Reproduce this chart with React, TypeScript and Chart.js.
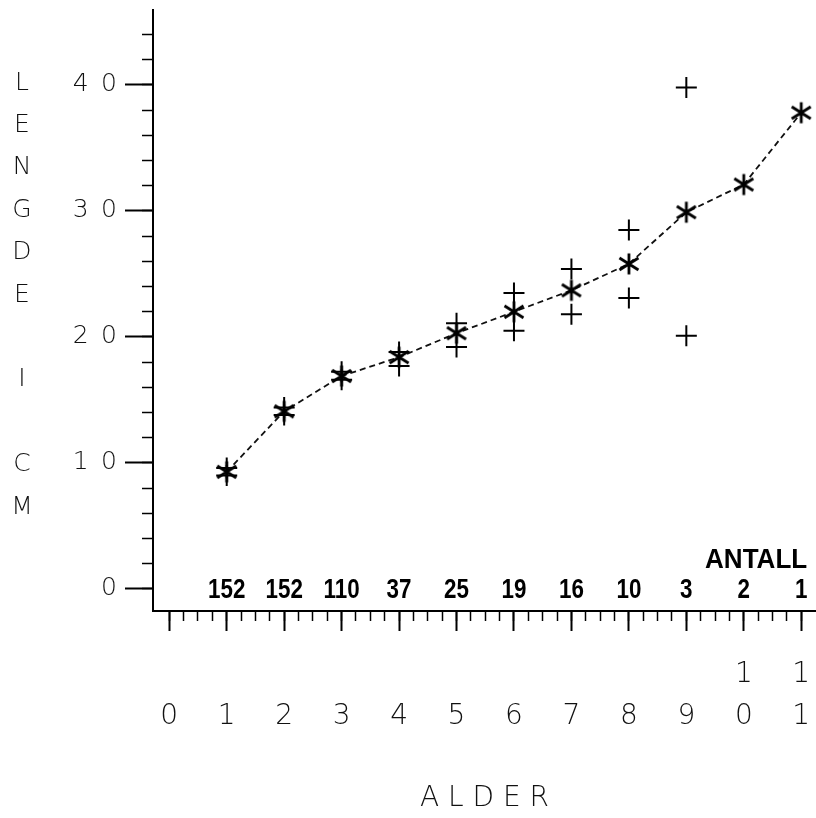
import React, { useEffect, useRef } from 'react';
import { Chart, registerables } from 'chart.js';

Chart.register(...registerables);

// ---- data ----
const ages = [1, 2, 3, 4, 5, 6, 7, 8, 9, 10, 11];
const meanLength = [9.3, 14.1, 16.9, 18.4, 20.3, 22.0, 23.7, 25.8, 29.9, 32.1, 37.8];
const upperLength = [9.6, 14.4, 17.25, 18.8, 21.1, 23.5, 25.4, 28.5, 39.8, null, null];
const lowerLength = [9.0, 13.8, 16.6, 17.7, 19.2, 20.5, 21.8, 23.1, 20.1, null, null];
const counts = ['152', '152', '110', '37', '25', '19', '16', '10', '3', '2', '1'];
const countsTitle = 'ANTALL';
const xMajorTicks = [0, 1, 2, 3, 4, 5, 6, 7, 8, 9, 10, 11];
const yMajorTicks = [0, 10, 20, 30, 40];
const yTitleLetters = ['L', 'E', 'N', 'G', 'D', 'E', '', 'I', '', 'C', 'M'];
const xTitle = 'A L D E R';

const X_MIN = -0.283;
const X_MAX = 11.257;
const Y_MIN = -1.746;
const Y_MAX = 45.95;

const THIN_FONT = "'DejaVu Sans', 'Liberation Sans', sans-serif";

function makeAsterisk(): HTMLCanvasElement {
  const c = document.createElement('canvas');
  c.width = 24;
  c.height = 24;
  const g = c.getContext('2d')!;
  g.strokeStyle = '#000';
  g.lineWidth = 2.8;
  g.lineCap = 'butt';
  g.beginPath();
  g.moveTo(12, 1.5);
  g.lineTo(12, 22.5);
  g.moveTo(2.5, 6);
  g.lineTo(21.5, 18);
  g.moveTo(2.5, 18);
  g.lineTo(21.5, 6);
  g.stroke();
  return c;
}

const zeroPad = (s: any) => {
  s.paddingTop = 0;
  s.paddingBottom = 0;
  s.paddingLeft = 0;
  s.paddingRight = 0;
};

const yTitlePlugin = {
  id: 'yTitleLetters',
  afterDraw(chart: any) {
    const ctx = chart.ctx;
    ctx.save();
    ctx.fillStyle = '#111';
    ctx.font = `200 25px ${THIN_FONT}`;
    ctx.textAlign = 'center';
    ctx.textBaseline = 'middle';
    yTitleLetters.forEach((ch, i) => {
      if (ch) ctx.fillText(ch, 22, 83 + i * 42.4);
    });
    ctx.restore();
  },
};

const countsPlugin = {
  id: 'countsRow',
  afterDatasetsDraw(chart: any) {
    const ctx = chart.ctx;
    const xs = chart.scales.x;
    const ys = chart.scales.y;
    const y0 = ys.getPixelForValue(0);
    ctx.save();
    ctx.fillStyle = '#000';
    ctx.font = "bold 28px 'Liberation Sans', Arial, sans-serif";
    ctx.textBaseline = 'middle';
    ctx.textAlign = 'center';
    counts.forEach((t, i) => {
      const x = xs.getPixelForValue(ages[i]);
      ctx.save();
      ctx.translate(x, y0 + 1);
      ctx.scale(0.8, 1);
      ctx.fillText(t, 0, 0);
      ctx.restore();
    });
    const xr = xs.getPixelForValue(ages[ages.length - 1]) + 6;
    ctx.save();
    ctx.translate(xr, y0 - 29);
    ctx.scale(0.93, 1);
    ctx.textAlign = 'right';
    ctx.fillText(countsTitle, 0, 0);
    ctx.restore();
    ctx.restore();
  },
};

export default function App() {
  const ref = useRef<HTMLCanvasElement | null>(null);

  useEffect(() => {
    if (!ref.current) return;
    const asterisk = makeAsterisk();
    const toXY = (vals: (number | null)[]) =>
      ages.map((a, i) => ({ x: a, y: vals[i] })).filter((p) => p.y !== null);

    const chart = new Chart(ref.current, {
      type: 'scatter',
      data: {
        datasets: [
          {
            label: 'Gjennomsnitt',
            data: toXY(meanLength) as any,
            showLine: true,
            borderColor: '#111',
            borderWidth: 1.8,
            borderDash: [6, 4],
            pointStyle: asterisk as any,
            pointRadius: 10,
            backgroundColor: '#000',
            xAxisID: 'x',
            yAxisID: 'y',
            clip: false as any,
            order: 1,
          },
          {
            label: 'Øvre',
            data: toXY(upperLength) as any,
            showLine: false,
            pointStyle: 'cross',
            pointRadius: 10.5,
            pointBorderWidth: 2,
            borderColor: '#000',
            backgroundColor: '#000',
            xAxisID: 'x',
            yAxisID: 'y',
            clip: false as any,
            order: 2,
          },
          {
            label: 'Nedre',
            data: toXY(lowerLength) as any,
            showLine: false,
            pointStyle: 'cross',
            pointRadius: 10.5,
            pointBorderWidth: 2,
            borderColor: '#000',
            backgroundColor: '#000',
            xAxisID: 'x',
            yAxisID: 'y',
            clip: false as any,
            order: 3,
          },
        ],
      },
      options: {
        responsive: false,
        maintainAspectRatio: false,
        animation: false,
        devicePixelRatio: 1,
        layout: { autoPadding: false, padding: { top: 10, left: 0, right: 0, bottom: 0 } },
        plugins: {
          legend: { display: false },
          tooltip: { enabled: false },
          title: { display: false },
        },
        scales: {
          x: {
            type: 'linear',
            position: 'bottom',
            weight: 1,
            min: X_MIN,
            max: X_MAX,
            afterBuildTicks: (s: any) => {
              s.ticks = xMajorTicks.map((v) => ({ value: v }));
            },
            afterFit: (s: any) => {
              s.height = 207;
              zeroPad(s);
            },
            grid: {
              drawOnChartArea: false,
              drawTicks: true,
              tickLength: 20,
              tickWidth: 2,
              tickColor: '#000',
            },
            border: { display: true, color: '#000', width: 2 },
            ticks: {
              autoSkip: false,
              maxRotation: 0,
              minRotation: 0,
              padding: 23,
              color: '#111',
              font: { family: THIN_FONT, size: 28, weight: '200' as any, lineHeight: 1.5 },
              callback: (v: any) => {
                const s = String(v);
                return s.length > 1 ? [s[0], s[1]] : ['', s];
              },
            },
            title: {
              display: true,
              text: xTitle,
              color: '#111',
              font: { family: THIN_FONT, size: 28, weight: '200' as any },
              padding: { top: 0, bottom: 2 },
            },
          },
          xMinor: {
            type: 'linear',
            axis: 'x',
            position: 'bottom',
            weight: 0,
            min: X_MIN,
            max: X_MAX,
            afterBuildTicks: (s: any) => {
              const t: any[] = [];
              for (let v = 0; v <= 11.001; v += 0.25) t.push({ value: v });
              s.ticks = t;
            },
            afterFit: (s: any) => {
              s.height = 0;
              zeroPad(s);
            },
            grid: {
              drawOnChartArea: false,
              drawTicks: true,
              tickLength: 10,
              tickWidth: 1.5,
              tickColor: '#000',
            },
            border: { display: false },
            ticks: { display: false },
          } as any,
          y: {
            type: 'linear',
            position: 'left',
            weight: 1,
            min: Y_MIN,
            max: Y_MAX,
            afterBuildTicks: (s: any) => {
              s.ticks = yMajorTicks.map((v) => ({ value: v }));
            },
            afterFit: (s: any) => {
              s.width = 153;
              zeroPad(s);
            },
            grid: {
              drawOnChartArea: false,
              drawTicks: true,
              tickLength: 28,
              tickWidth: 2,
              tickColor: '#000',
            },
            border: { display: true, color: '#000', width: 2 },
            ticks: {
              autoSkip: false,
              padding: 8,
              color: '#111',
              font: { family: THIN_FONT, size: 25, weight: '200' as any },
              callback: (v: any) => String(v).split('').join('\u2002'),
            },
          },
          yMinor: {
            type: 'linear',
            axis: 'y',
            position: 'left',
            weight: 0,
            min: Y_MIN,
            max: Y_MAX,
            afterBuildTicks: (s: any) => {
              const t: any[] = [];
              for (let v = 0; v <= 44.001; v += 2) t.push({ value: v });
              s.ticks = t;
            },
            afterFit: (s: any) => {
              s.width = 0;
              zeroPad(s);
            },
            grid: {
              drawOnChartArea: false,
              drawTicks: true,
              tickLength: 11,
              tickWidth: 1.5,
              tickColor: '#000',
            },
            border: { display: false },
            ticks: { display: false },
          } as any,
        },
      },
      plugins: [yTitlePlugin, countsPlugin],
    });
    return () => chart.destroy();
  }, []);

  return (
    <div style={{ position: 'absolute', left: 0, top: 0, width: 816, height: 818, background: '#fff' }}>
      <canvas ref={ref} width={816} height={818} style={{ width: 816, height: 818, display: 'block' }} />
    </div>
  );
}
